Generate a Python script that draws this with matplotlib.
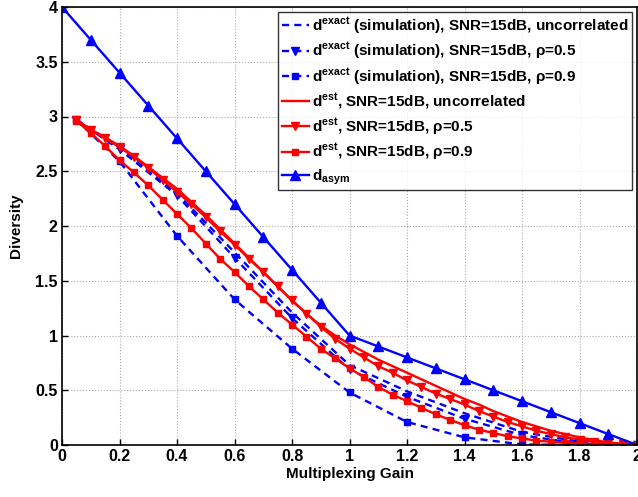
import matplotlib
matplotlib.use("Agg")
import matplotlib.pyplot as plt
import numpy as np

plt.rcParams['font.family'] = ['Liberation Sans', 'DejaVu Sans']
plt.rcParams['font.weight'] = 'bold'
plt.rcParams['mathtext.fontset'] = 'custom'
plt.rcParams['mathtext.rm'] = 'Liberation Sans:bold'
plt.rcParams['mathtext.bf'] = 'Liberation Sans:bold'
plt.rcParams['mathtext.it'] = 'Liberation Sans:bold'
plt.rcParams['mathtext.default'] = 'bf'

# Simulation (exact) points
x_sim = [0.05, 0.2, 0.4, 0.6, 0.8, 1.0, 1.2, 1.4, 1.6, 1.8, 2.0]
exact_uncorr = [2.97, 2.72, 2.30, 1.76, 1.21, 0.73, 0.49, 0.29, 0.12, 0.03, 0.0]
exact_rho05 = [2.97, 2.70, 2.28, 1.71, 1.16, 0.69, 0.44, 0.24, 0.09, 0.01, 0.0]
exact_rho09 = [2.97, 2.59, 1.91, 1.33, 0.88, 0.48, 0.21, 0.07, 0.005, 0.0, 0.0]

# Estimated curves
x_est = [0.05, 0.1, 0.15, 0.2, 0.25, 0.3, 0.35, 0.4, 0.45, 0.5,
         0.55, 0.6, 0.65, 0.7, 0.75, 0.8, 0.85, 0.9, 0.95, 1.0,
         1.05, 1.1, 1.15, 1.2, 1.25, 1.3, 1.35, 1.4, 1.45, 1.5,
         1.55, 1.6, 1.65, 1.7, 1.75, 1.8, 1.85, 1.9, 1.95, 2.0]
est_uncorr = [2.97, 2.88, 2.81, 2.73, 2.64, 2.54, 2.44, 2.34, 2.22, 2.10,
              1.97, 1.84, 1.71, 1.58, 1.45, 1.32, 1.20, 1.09, 1.00, 0.92,
              0.85, 0.78, 0.72, 0.66, 0.60, 0.54, 0.48, 0.42, 0.37, 0.31,
              0.26, 0.21, 0.17, 0.13, 0.10, 0.07, 0.045, 0.025, 0.01, 0.0]
est_rho05 = [2.97, 2.88, 2.80, 2.72, 2.63, 2.53, 2.42, 2.31, 2.20, 2.08,
             1.95, 1.83, 1.70, 1.58, 1.45, 1.32, 1.20, 1.08, 0.97, 0.88,
             0.80, 0.72, 0.66, 0.59, 0.53, 0.47, 0.42, 0.37, 0.31, 0.26,
             0.21, 0.17, 0.13, 0.10, 0.07, 0.05, 0.03, 0.015, 0.005, 0.0]
est_rho09 = [2.96, 2.85, 2.73, 2.60, 2.49, 2.37, 2.24, 2.11, 1.98, 1.84,
             1.70, 1.58, 1.45, 1.33, 1.21, 1.10, 0.99, 0.88, 0.79, 0.70,
             0.62, 0.53, 0.46, 0.40, 0.34, 0.28, 0.23, 0.18, 0.14, 0.11,
             0.08, 0.06, 0.04, 0.03, 0.02, 0.015, 0.01, 0.005, 0.002, 0.0]

# Asymptotic DMT
x_asym = [0.0, 0.1, 0.2, 0.3, 0.4, 0.5, 0.6, 0.7, 0.8, 0.9, 1.0,
          1.1, 1.2, 1.3, 1.4, 1.5, 1.6, 1.7, 1.8, 1.9, 2.0]
d_asym = [4.0, 3.7, 3.4, 3.1, 2.8, 2.5, 2.2, 1.9, 1.6, 1.3, 1.0,
          0.9, 0.8, 0.7, 0.6, 0.5, 0.4, 0.3, 0.2, 0.1, 0.0]

labels = [
    r'd$^{exact}$ (simulation), SNR=15dB, uncorrelated',
    r'd$^{exact}$ (simulation), SNR=15dB, ρ=0.5',
    r'd$^{exact}$ (simulation), SNR=15dB, ρ=0.9',
    r'd$^{est}$, SNR=15dB, uncorrelated',
    r'd$^{est}$, SNR=15dB, ρ=0.5',
    r'd$^{est}$, SNR=15dB, ρ=0.9',
    r'd$_{asym}$',
]

fig = plt.figure(figsize=(6.38, 4.97), dpi=100)
ax = fig.add_axes([62/638, 52/497, 575/638, 438/497])

blue = '#0000ff'
red = '#ff0000'
lw = 1.7
dash = (0, (3, 2.2))
ax.plot(x_sim, exact_uncorr, color=blue, ls=dash, lw=lw, label=labels[0])
ax.plot(x_sim, exact_rho05, color=blue, ls=dash, lw=lw, marker='v', ms=6, label=labels[1])
ax.plot(x_sim, exact_rho09, color=blue, ls=dash, lw=lw, marker='s', ms=5, label=labels[2])
ax.plot(x_est, est_uncorr, color=red, ls='-', lw=lw, label=labels[3])
ax.plot(x_est, est_rho05, color=red, ls='-', lw=lw, marker='v', ms=6, label=labels[4])
ax.plot(x_est, est_rho09, color=red, ls='-', lw=lw, marker='s', ms=5, label=labels[5])
ax.plot(x_asym, d_asym, color=blue, ls='-', lw=lw, marker='^', ms=6.5, label=labels[6])

ax.set_xlim(0, 2)
ax.set_ylim(0, 4)
ax.set_xticks([0, 0.2, 0.4, 0.6, 0.8, 1, 1.2, 1.4, 1.6, 1.8, 2])
ax.set_xticklabels(['0', '0.2', '0.4', '0.6', '0.8', '1', '1.2', '1.4', '1.6', '1.8', '2'])
ax.set_yticks([0, 0.5, 1, 1.5, 2, 2.5, 3, 3.5, 4])
ax.set_yticklabels(['0', '0.5', '1', '1.5', '2', '2.5', '3', '3.5', '4'])
ax.tick_params(direction='in', length=4, width=1, labelsize=11.5, pad=3)
for lab in ax.get_xticklabels() + ax.get_yticklabels():
    lab.set_fontweight('bold')
ax.grid(True, ls=':', color='#aaaaaa', lw=0.8)
for s in ax.spines.values():
    s.set_linewidth(1.2)
ax.set_xlabel('Multiplexing Gain', fontsize=11, fontweight='bold', labelpad=2)
ax.set_ylabel('Diversity', fontsize=11, fontweight='bold', labelpad=9)

leg = ax.legend(loc='upper right', fontsize=11, frameon=True, fancybox=False,
                edgecolor='black', handlelength=1.8, handletextpad=0.2,
                borderaxespad=0.35, labelspacing=0.32, borderpad=0.2)
leg.get_frame().set_linewidth(1.0)
for t in leg.get_texts():
    t.set_fontweight('bold')

fig.savefig('out.png', dpi=100)
